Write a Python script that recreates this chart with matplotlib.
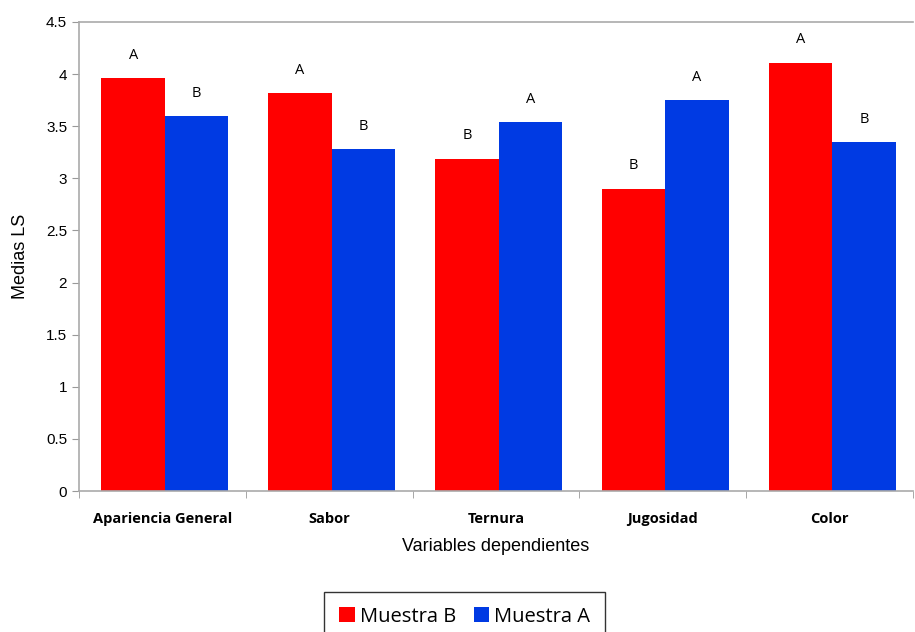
import matplotlib
matplotlib.use("Agg")
import matplotlib.pyplot as plt
import numpy as np

categories = ["Apariencia General", "Sabor", "Ternura", "Jugosidad", "Color"]
muestra_b = [3.96, 3.82, 3.19, 2.90, 4.11]
muestra_a = [3.60, 3.28, 3.54, 3.75, 3.35]
letters_b = ["A", "A", "B", "B", "A"]
letters_a = ["B", "B", "A", "A", "B"]
yticks = [0, 0.5, 1, 1.5, 2, 2.5, 3, 3.5, 4, 4.5]
ytick_labels = ["0", "0.5", "1", "1.5", "2", "2.5", "3", "3.5", "4", "4.5"]

fig = plt.figure(figsize=(9.15, 6.32), dpi=100)
ax = fig.add_axes([0.0863, 0.2231, 0.9117, 0.7421])

x = np.arange(len(categories))
w = 0.38
red = "#FF0000"
blue = "#003AE3"
bars_b = ax.bar(x - w / 2 + 0.015, muestra_b, w, color=red, label="Muestra B")
bars_a = ax.bar(x + w / 2 + 0.015, muestra_a, w, color=blue, label="Muestra A")

for bars, labs in ((bars_b, letters_b), (bars_a, letters_a)):
    for b, lab in zip(bars, labs):
        ax.annotate(lab, (b.get_x() + b.get_width() / 2, b.get_height()),
                    xytext=(0, 11), textcoords="offset points",
                    ha="center", va="bottom", fontsize=10.5, family="Open Sans")

ax.set_xlim(-0.5, len(categories) - 0.5)
ax.set_ylim(0, 4.5)
ax.set_yticks(yticks)
ax.set_yticklabels(ytick_labels, fontsize=11, family="Liberation Sans")
ax.set_xticks(x)
ax.set_xticklabels(categories, fontsize=10.5, fontweight="bold", family="Open Sans")
ax.tick_params(axis="x", length=0, pad=15)
ax.set_xticks(np.arange(-0.5, len(categories), 1), minor=True)
ax.tick_params(axis="x", which="minor", length=5, color="#999999", direction="out")
ax.tick_params(axis="y", length=5, color="#999999", direction="out")

for s in ["left", "bottom", "top"]:
    ax.spines[s].set_color("#AAAAAA")
    ax.spines[s].set_linewidth(1.2)
ax.spines["right"].set_visible(False)

ax.set_ylabel("Medias LS", fontsize=13, family="Liberation Sans", labelpad=12)
ax.set_xlabel("Variables dependientes", fontsize=13, family="Liberation Sans", labelpad=9)

leg = fig.legend(handles=[bars_b, bars_a], loc="upper center",
                 bbox_to_anchor=(0.508, 0.064), ncol=2, frameon=True,
                 fancybox=False, edgecolor="black",
                 prop={"family": "Open Sans", "size": 14.5},
                 handlelength=0.75, handleheight=0.75, handletextpad=0.25,
                 columnspacing=0.9, borderpad=0.75, borderaxespad=0)
leg.get_frame().set_linewidth(1.0)

fig.savefig("out.png", dpi=100)
